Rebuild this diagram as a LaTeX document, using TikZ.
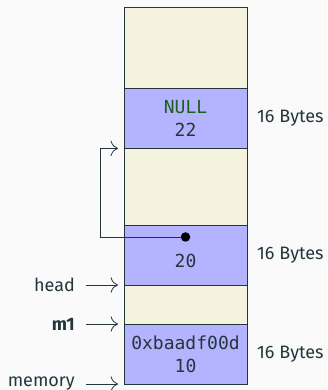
\documentclass[tikz,border=0pt]{standalone}
\usepackage{fontspec}
\setmainfont{Fira Sans}
\setmonofont{DejaVu Sans Mono}
\usepackage{tikz}
\usetikzlibrary{positioning,arrows.meta}
\definecolor{bg}{HTML}{FAFAFA}
\definecolor{ink}{HTML}{23373B}
\definecolor{used}{HTML}{B3B3FF}
\definecolor{free}{HTML}{F5F2E0}
\definecolor{nullgreen}{HTML}{1E5E1E}
\tikzset{
  cell/.style={draw=ink, line width=0.8pt, minimum width=123pt, inner sep=0pt, outer sep=0pt,
    align=center, text=ink, font=\ttfamily\fontsize{18}{23}\selectfont},
  chunk/.style={cell, fill=used, minimum height=60pt},
  gap/.style={cell, fill=free},
  lbl/.style={text=ink, inner sep=2pt, font=\fontsize{18}{22}\selectfont},
  ptr/.style={-{To[scale=2.2]}, line width=0.8pt, draw=ink},
  dot/.style={circle, fill=black, inner sep=0pt, minimum size=9.5pt}
}
\begin{document}
\begin{tikzpicture}[x=1pt, y=1pt]
  \useasboundingbox[fill=bg] (0,0) rectangle (327,390);

  % heap cells, bottom to top
  \node[chunk] (c1) at (185.5,36) {0xbaadf00d\\10};
  \node[gap, minimum height=39pt, above=0pt of c1] (g1) {};
  \node[chunk, above=0pt of g1, label={[yshift=-6pt, text=ink, font=\ttfamily\fontsize{18}{23}\selectfont]center:20}] (c2) {};
  \node[gap, minimum height=76.6pt, above=0pt of c2] (g2) {};
  \node[chunk, above=0pt of g2] (c3) {\textcolor{nullgreen}{NULL}\\22};
  \node[gap, minimum height=81.4pt, above=0pt of c3] (g3) {};

  \node[lbl, right=8pt of c1] (s1) {16 Bytes};
  \node[lbl, right=8pt of c2] (s2) {16 Bytes};
  \node[lbl, right=8pt of c3] (s3) {16 Bytes};

  % pointers into the heap
  \coordinate (mem) at ([xshift=-6pt]c1.south west);
  \coordinate (mo) at ([xshift=-6pt]c1.north west);
  \coordinate (hd) at ([xshift=-6pt]c2.south west);
  \node[lbl, left=41pt of mem] (memory) {memory};
  \node[lbl, left=41pt of mo] (m1) {\textbf{m1}};
  \node[lbl, left=41pt of hd] (head) {head};
  \draw[ptr, shorten <=9pt] (memory) -- (mem);
  \draw[ptr, shorten <=9pt] (m1) -- (mo);
  \draw[ptr, shorten <=9pt] (head) -- (hd);

  % next pointer of the 20 chunk
  \coordinate (nx) at ([yshift=18pt]c2.center);
  \coordinate (tgt) at ([xshift=-6pt]c3.south west);
  \coordinate (bend) at ([xshift=-24pt]c3.south west);
  \draw[ptr] (nx) -| (bend) -- (tgt);
  \node[dot] (nxdot) at (nx) {};
\end{tikzpicture}
\end{document}
